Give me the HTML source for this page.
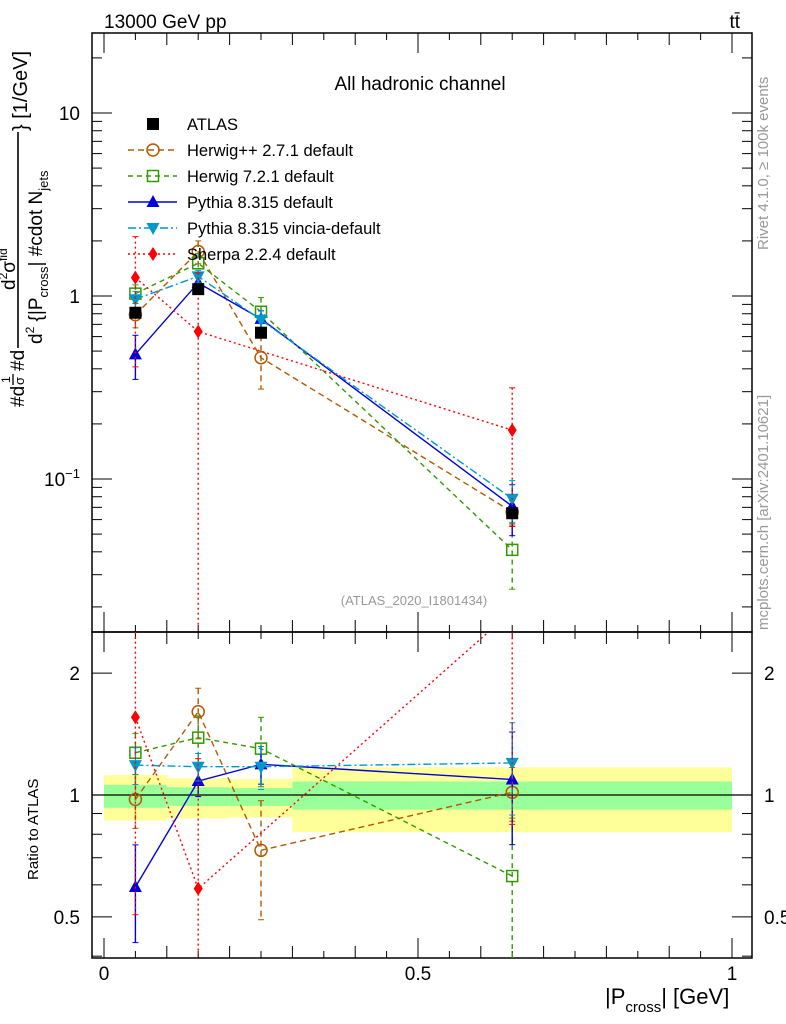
<!DOCTYPE html>
<html><head><meta charset="utf-8"><style>
html,body{margin:0;padding:0;background:#fff;width:786px;height:1024px;overflow:hidden;}
svg{display:block;font-family:"Liberation Sans",sans-serif;}
</style></head><body>
<svg id="c" width="786" height="1024" viewBox="0 0 786 1024">
<rect x="0" y="0" width="786" height="1024" fill="#fff"/>
<g id="bands"></g>
<g id="axes"></g>
<g id="series"></g>
<text x="104" y="28" font-size="19">13000 GeV pp</text>
<text x="740" y="28" font-size="19" text-anchor="end">tt̄</text>
<text x="420" y="90" font-size="19" text-anchor="middle">All hadronic channel</text>
<text x="414" y="605" font-size="13" fill="#999" text-anchor="middle">(ATLAS_2020_I1801434)</text>
<text transform="translate(768,250) rotate(-90)" font-size="15" fill="#999">Rivet 4.1.0, ≥ 100k events</text>
<text transform="translate(768,630) rotate(-90)" font-size="15" fill="#999">mcplots.cern.ch [arXiv:2401.10621]</text>
<text transform="translate(38,880) rotate(-90)" font-size="15">Ratio to ATLAS</text>
<g>
<text x="605" y="1004" font-size="22">|P<tspan font-size="15" dy="8">cross</tspan><tspan dy="-8">| [GeV]</tspan></text>
</g>
<g transform="rotate(-90)">
<text x="-407" y="24" font-size="19">#d</text>
<text x="-383" y="10" font-size="12">1</text>
<line x1="-385" x2="-374" y1="13" y2="13" stroke="#000" stroke-width="1.3"/>
<text x="-385" y="24" font-size="13">σ</text>
<text x="-371" y="24" font-size="19">#d</text>
<line x1="-348" x2="-132" y1="18" y2="18" stroke="#000" stroke-width="1.6"/>
<text x="-290" y="15" font-size="19">d<tspan font-size="12" dy="-8">2</tspan><tspan dy="8">σ</tspan><tspan font-size="12" dy="-8">fid</tspan></text>
<text x="-344" y="42" font-size="19">d<tspan font-size="12" dy="-8">2</tspan><tspan dy="8"> {|P</tspan><tspan font-size="13" dy="6">cross</tspan><tspan dy="-6">| #cdot N</tspan><tspan font-size="13" dy="6">jets</tspan></text>
<text x="-131" y="27" font-size="20">} [1/GeV]</text>
</g>
<g id="legend"></g>
</svg>
<script>
// ---- data ----
const xVals = [0.05, 0.15, 0.25, 0.65];
const atlasVals = [0.81, 1.09, 0.63, 0.065];
const atlasErr = [0.04, 0.05, 0.04, 0.004];
const herwigppVals = [0.79, 1.75, 0.46, 0.066];
const herwigppErr = [0.12, 0.25, 0.15, 0.01];
const herwig7Vals = [1.03, 1.51, 0.82, 0.041];
const herwig7Err = [0.12, 0.2, 0.16, 0.016];
const pythiaVals = [0.48, 1.18, 0.75, 0.071];
const pythiaErr = [0.13, 0.1, 0.08, 0.022];
const vinciaVals = [0.96, 1.28, 0.74, 0.078];
const vinciaErr = [0.1, 0.1, 0.09, 0.02];
const sherpaX = [0.05, 0.15, 0.65];
const sherpaVals = [1.26, 0.64, 0.185];
const sherpaErr = [0.85, 0.7, 0.13];
const binEdges = [0, 0.1, 0.2, 0.3, 1.0];
const band2Hi = [1.12, 1.10, 1.095, 1.17];
const band2Lo = [0.865, 0.875, 0.88, 0.81];
const band1Hi = [1.06, 1.045, 1.04, 1.08];
const band1Lo = [0.93, 0.94, 0.94, 0.92];
const xTickLabels = ["0", "0.5", "1"];
const xTickVals = [0, 0.5, 1];
const ratioTickVals = [0.5, 1, 2];
const ratioTickLabels = ["0.5", "1", "2"];

// ---- axes ----
const L=92,R=752,T=33,M=632,B=958;
const X = v => 104 + v*628;
const Y = v => 296 - Math.log10(v)*183;
const YR = v => 795 - Math.log10(v)*405;
const NS="http://www.w3.org/2000/svg";
function mk(tag, attrs, parent){const e=document.createElementNS(NS,tag);for(const k in attrs)e.setAttribute(k,attrs[k]);parent.appendChild(e);return e;}

const bands=document.getElementById('bands');
for(let i=0;i<4;i++){
  const x1=X(binEdges[i]),x2=X(binEdges[i+1]);
  const r1=mk('rect',{x:x1,y:YR(band2Hi[i]),width:x2-x1,height:YR(band2Lo[i])-YR(band2Hi[i]),fill:'#ffff99'},bands);
  
  
  const r2=mk('rect',{x:x1,y:YR(band1Hi[i]),width:x2-x1,height:YR(band1Lo[i])-YR(band1Hi[i]),fill:'#99ff99'},bands);
  
  
}

const ax=document.getElementById('axes');
mk('rect',{x:L,y:T,width:R-L,height:M-T,fill:'none',stroke:'#000','stroke-width':1.5},ax);
mk('rect',{x:L,y:M,width:R-L,height:B-M,fill:'none',stroke:'#000','stroke-width':1.5},ax);
mk('line',{x1:L,x2:R,y1:YR(1),y2:YR(1),stroke:'#000','stroke-width':1.2},ax);
for(let d=-2;d<=1;d++){for(let k=1;k<=9;k++){const v=k*Math.pow(10,d);const y=Y(v);if(y<T||y>M)continue;const len=k==1?20:10;
 mk('line',{x1:L,x2:L+len,y1:y,y2:y,stroke:'#000'},ax);mk('line',{x1:R-len,x2:R,y1:y,y2:y,stroke:'#000'},ax);}}
const l10=mk('text',{x:80,y:Y(10)+7,'font-size':19,'text-anchor':'end'},ax);l10.textContent='10';
const l1=mk('text',{x:80,y:Y(1)+7,'font-size':19,'text-anchor':'end'},ax);l1.textContent='1';
const lm=mk('text',{x:80,y:Y(0.1)+7,'font-size':19,'text-anchor':'end'},ax);lm.innerHTML='10<tspan font-size="13" dy="-8">−1</tspan>';
for(let d=-1;d<=0;d++){for(let k=1;k<=9;k++){const v=k*Math.pow(10,d);const y=YR(v);if(y<M||y>B)continue;const major=ratioTickVals.includes(+v.toFixed(2));const len=major?20:10;
 mk('line',{x1:L,x2:L+len,y1:y,y2:y,stroke:'#000'},ax);mk('line',{x1:R-len,x2:R,y1:y,y2:y,stroke:'#000'},ax);}}
ratioTickVals.forEach((v,i)=>{const a=mk('text',{x:80,y:YR(v)+7,'font-size':19,'text-anchor':'end'},ax);a.textContent=ratioTickLabels[i];
 const b=mk('text',{x:764,y:YR(v)+7,'font-size':19,'text-anchor':'start'},ax);b.textContent=ratioTickLabels[i];});
for(let i=0;i<=20;i++){const v=i*0.05;const x=X(v);const len=(i%10==0)?20:(i%2==0?12:7);
 mk('line',{x1:x,x2:x,y1:B,y2:B-len,stroke:'#000'},ax);mk('line',{x1:x,x2:x,y1:M,y2:M-len,stroke:'#000'},ax);
 mk('line',{x1:x,x2:x,y1:T,y2:T+len,stroke:'#000'},ax);mk('line',{x1:x,x2:x,y1:M,y2:M+len,stroke:'#000'},ax);}
xTickVals.forEach((v,i)=>{const t=mk('text',{x:X(v),y:980,'font-size':19,'text-anchor':'middle'},ax);t.textContent=xTickLabels[i];});

// ---- series ----
const sg=document.getElementById('series');
const clipM=mk('clipPath',{id:'cm'},sg);mk('rect',{x:L,y:T,width:R-L,height:M-T},clipM);
const clipR=mk('clipPath',{id:'cr'},sg);mk('rect',{x:L,y:M,width:R-L,height:B-M},clipR);
function marker(g,type,x,y,col){
 if(type=='sq')mk('rect',{x:x-6,y:y-6,width:12,height:12,fill:'#000'},g);
 else if(type=='circ')mk('circle',{cx:x,cy:y,r:6,fill:'none',stroke:col,'stroke-width':1.5},g);
 else if(type=='osq')mk('rect',{x:x-5.5,y:y-5.5,width:11,height:11,fill:'none',stroke:col,'stroke-width':1.5},g);
 else if(type=='up')mk('path',{d:`M${x},${y-7}L${x+6.5},${y+5}L${x-6.5},${y+5}Z`,fill:col},g);
 else if(type=='dn')mk('path',{d:`M${x},${y+7}L${x+6.5},${y-5}L${x-6.5},${y-5}Z`,fill:col},g);
 else if(type=='dia')mk('path',{d:`M${x},${y-7}L${x+4.5},${y}L${x},${y+7}L${x-4.5},${y}Z`,fill:col},g);
}
const seriesDefs=[
 {name:'herwigpp',xs:xVals,vals:herwigppVals,err:herwigppErr,col:'#b35900',dash:'6,4',m:'circ'},
 {name:'herwig7',xs:xVals,vals:herwig7Vals,err:herwig7Err,col:'#339900',dash:'5,4',m:'osq'},
 {name:'pythia',xs:xVals,vals:pythiaVals,err:pythiaErr,col:'#0000dd',dash:'',m:'up'},
 {name:'vincia',xs:xVals,vals:vinciaVals,err:vinciaErr,col:'#0099cc',dash:'8,3,2,3',m:'dn'},
 {name:'sherpa',xs:sherpaX,vals:sherpaVals,err:sherpaErr,col:'#ff0000',dash:'2,3',m:'dia'},
];
function atlasAt(x){return atlasVals[xVals.indexOf(x)];}
seriesDefs.forEach(s=>{
 ['main','ratio'].forEach(p=>{
  const g=mk('g',{'clip-path':p=='main'?'url(#cm)':'url(#cr)'},sg);
  
  
  const yf=p=='main'?Y:YR;
  const vv=s.vals.map((v,i)=>p=='main'?v:v/atlasAt(s.xs[i]));
  const ee=s.err.map((e,i)=>p=='main'?e:e/atlasAt(s.xs[i]));
  const pts=s.xs.map((x,i)=>X(x)+','+yf(vv[i])).join(' ');
  mk('polyline',{points:pts,fill:'none',stroke:s.col,'stroke-width':1.4,'stroke-dasharray':s.dash},g);
  s.xs.forEach((x,i)=>{
   const lo=Math.max(vv[i]-ee[i],1e-4),hi=vv[i]+ee[i];
   mk('line',{x1:X(x),x2:X(x),y1:yf(hi),y2:yf(lo),stroke:s.col,'stroke-width':1.4,'stroke-dasharray':s.dash},g);
   mk('line',{x1:X(x)-3,x2:X(x)+3,y1:yf(hi),y2:yf(hi),stroke:s.col},g);
   mk('line',{x1:X(x)-3,x2:X(x)+3,y1:yf(lo),y2:yf(lo),stroke:s.col},g);
   marker(g,s.m,X(x),yf(vv[i]),s.col);
  });
 });
});
const ag=mk('g',{},sg);


xVals.forEach((x,i)=>{
 mk('line',{x1:X(x),x2:X(x),y1:Y(atlasVals[i]+atlasErr[i]),y2:Y(atlasVals[i]-atlasErr[i]),stroke:'#000','stroke-width':1.4},ag);
 marker(ag,'sq',X(x),Y(atlasVals[i]),'#000');
});

// ---- legend ----
const lg=document.getElementById('legend');
const legNames=['ATLAS','Herwig++ 2.7.1 default','Herwig 7.2.1 default','Pythia 8.315 default','Pythia 8.315 vincia-default','Sherpa 2.2.4 default'];
legNames.forEach((n,i)=>{
 const y=124+i*26;
 const e=mk('g',{},lg);
 
 
 if(i==0){marker(e,'sq',153,y,'#000');}
 else{const s=seriesDefs[i-1];mk('line',{x1:128,x2:177,y1:y,y2:y,stroke:s.col,'stroke-width':1.4,'stroke-dasharray':s.dash},e);marker(e,s.m,153,y,s.col);}
 const t=mk('text',{x:187,y:y+6,'font-size':16.5},e);t.textContent=n;
});
</script>
</body></html>
